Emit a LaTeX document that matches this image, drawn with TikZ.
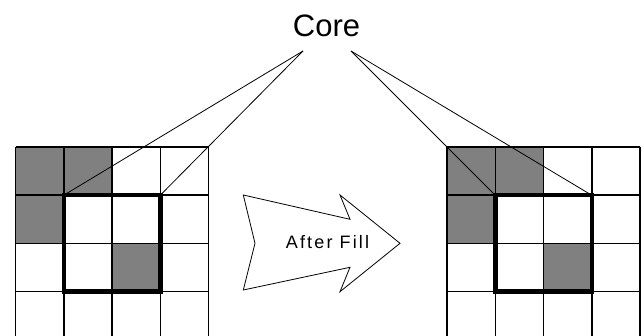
\documentclass[tikz,border=0pt]{standalone}
\usepackage{fontspec}
\setmainfont{Liberation Sans}
\begin{document}
\begin{tikzpicture}[x=1pt,y=-1pt,
  gridline/.style={line width=1.5pt,black},
  corebox/.style={line width=4.5pt,black},
  coreline/.style={line width=0.8pt,black},
  graycell/.style={fill=cellgray},
  arrowshape/.style={draw=black,line width=0.8pt,fill=white,line join=miter}]
\definecolor{cellgray}{HTML}{808080}
\useasboundingbox (0,0) rectangle (642,336);
\def\cs{48.25}
% grids
\foreach \ox/\nm in {15.5/L,447/R}{
  \begin{scope}[shift={(\ox,147)}]
    \fill[graycell] (0,0) rectangle (\cs,\cs);
    \fill[graycell] (\cs,0) rectangle (2*\cs,\cs);
    \fill[graycell] (0,\cs) rectangle (\cs,2*\cs);
    \fill[graycell] (2*\cs,2*\cs) rectangle (3*\cs,3*\cs);
    \foreach \i in {0,1,2,3,4}{
      \draw[gridline] (\i*\cs,0) -- (\i*\cs,200);
    }
    \foreach \j in {0,1,2,3}{
      \draw[gridline] (0,\j*\cs) -- (4*\cs,\j*\cs);
    }
    \draw[corebox] (\cs,\cs) rectangle (3*\cs,3*\cs);
    \coordinate (\nm a) at (\cs,\cs);
    \coordinate (\nm b) at (3*\cs,\cs);
  \end{scope}
}
% core label and lines
\node[anchor=base,font=\fontsize{31}{31}\selectfont,inner sep=0pt] (core) at (326.5,37) {Core};
\coordinate (apexL) at (303,51);
\coordinate (apexR) at (351,51);
\draw[coreline] (apexL) -- (La);
\draw[coreline] (apexL) -- (Lb);
\draw[coreline] (apexR) -- (Ra);
\draw[coreline] (apexR) -- (Rb);
% arrow
\draw[arrowshape] (243.3,195) -- (350,219.3) -- (340,195) -- (400,243.3) -- (340,291.7) -- (350,267.3) -- (243.3,290) -- (255,243.3) -- cycle;
\node[anchor=base,inner sep=0pt,font=\fontsize{18}{18}\selectfont\addfontfeature{LetterSpace=12}] (fill) at (327.5,249) {After Fill};
\end{tikzpicture}
\end{document}
